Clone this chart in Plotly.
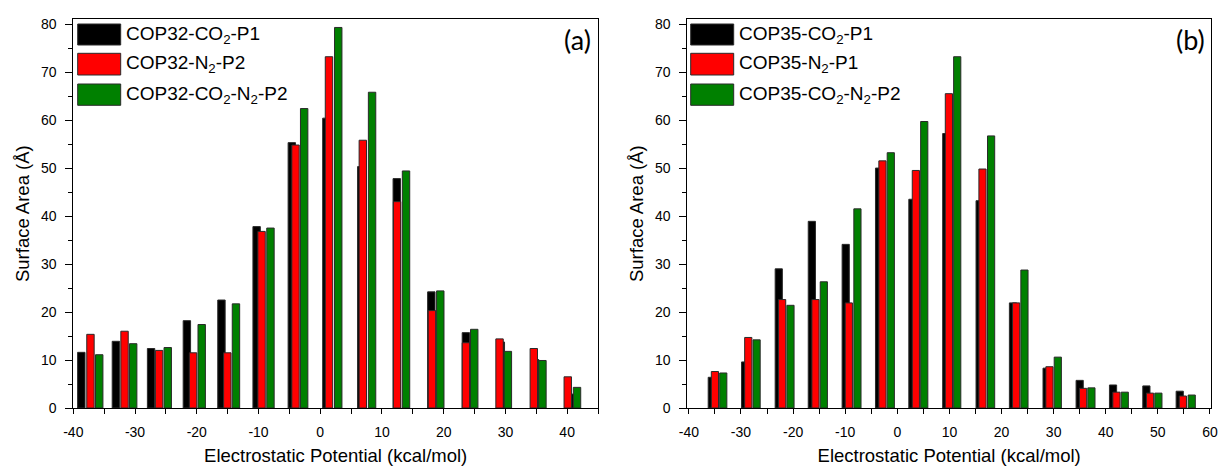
import plotly.graph_objects as go

# ---------------- data ----------------
# Panel (a)
a_black_x = [-38.7, -33.1, -27.4, -21.6, -16.0, -10.3, -4.6, 1.0, 6.65, 12.4, 18.0, 23.6, 29.26, 34.8, 40.4]
a_black_y = [11.6, 13.9, 12.4, 18.2, 22.5, 37.8, 55.3, 60.4, 50.3, 47.8, 24.2, 15.7, 13.75, 10.1, 2.9]
a_red_x = [-37.22, -31.7, -26.1, -20.6, -15.05, -9.5, -4.0, 1.42, 6.9, 12.45, 18.1, 23.6, 29.05, 34.6, 40.1]
a_red_y = [15.35, 16.0, 12.0, 11.5, 11.5, 36.8, 54.8, 73.2, 55.8, 43.0, 20.3, 13.6, 14.4, 12.4, 6.5]
a_green_x = [-35.8, -30.3, -24.7, -19.2, -13.65, -8.06, -2.6, 2.92, 8.4, 13.9, 19.45, 24.95, 30.4, 36.0, 41.6]
a_green_y = [11.1, 13.4, 12.6, 17.4, 21.7, 37.5, 62.4, 79.3, 65.8, 49.4, 24.4, 16.4, 11.8, 9.9, 4.3]
a_names = ["COP32-CO<sub>2</sub>-P1", "COP32-N<sub>2</sub>-P2", "COP32-CO<sub>2</sub>-N<sub>2</sub>-P2"]

# Panel (b)
b_black_x = [-35.6, -29.2, -22.75, -16.4, -9.9, -3.5, 2.9, 9.4, 15.8, 22.2, 28.65, 35.0, 41.4, 47.8, 54.2]
b_black_y = [6.4, 9.6, 29.0, 38.9, 34.1, 50.0, 43.5, 57.2, 43.2, 21.9, 8.3, 5.76, 4.8, 4.6, 3.5]
b_red_x = [-35.0, -28.6, -22.1, -15.7, -9.3, -2.85, 3.56, 9.9, 16.35, 22.8, 29.2, 35.65, 42.05, 48.5, 54.8]
b_red_y = [7.6, 14.7, 22.6, 22.6, 21.9, 51.5, 49.5, 65.5, 49.8, 21.9, 8.6, 4.1, 3.3, 3.1, 2.5]
b_green_x = [-33.4, -27.0, -20.5, -14.1, -7.65, -1.25, 5.17, 11.5, 18.0, 24.4, 30.8, 37.25, 43.65, 50.1, 56.5]
b_green_y = [7.3, 14.2, 21.4, 26.3, 41.5, 53.2, 59.7, 73.2, 56.7, 28.75, 10.6, 4.2, 3.3, 3.1, 2.7]
b_names = ["COP35-CO<sub>2</sub>-P1", "COP35-N<sub>2</sub>-P1", "COP35-CO<sub>2</sub>-N<sub>2</sub>-P2"]

# tick labels (hyphen-minus as in the reference)
a_xticks = [-40, -30, -20, -10, 0, 10, 20, 30, 40]
b_xticks = [-40, -30, -20, -10, 0, 10, 20, 30, 40, 50, 60]
y_ticks = [0, 10, 20, 30, 40, 50, 60, 70, 80]

colors = ["#000000", "#FF0000", "#008000"]
x_title = "Electrostatic Potential (kcal/mol)"
y_title = "Surface Area (Å)"
panel_labels = ["(a)", "(b)"]

# ---------------- figure ----------------
W, H = 1218, 466

def px(x):
    return x / W

def py(y):
    return (H - y) / H

fig = go.Figure()

panels = [
    dict(xs=[a_black_x, a_red_x, a_green_x], ys=[a_black_y, a_red_y, a_green_y],
         names=a_names, xa="x", ya="y", width=1.2),
    dict(xs=[b_black_x, b_red_x, b_green_x], ys=[b_black_y, b_red_y, b_green_y],
         names=b_names, xa="x2", ya="y2", width=1.38),
]

for p in panels:
    for xs, ys, nm, c in zip(p["xs"], p["ys"], p["names"], colors):
        fig.add_trace(go.Bar(
            x=xs, y=ys, name=nm, width=p["width"], xaxis=p["xa"], yaxis=p["ya"],
            marker=dict(color=c, line=dict(color="#2a2a2a", width=1)),
            showlegend=False,
        ))

ydom = [py(408), py(19.3)]
xdom1 = [px(73.3), px(598)]
xdom2 = [px(687.3), px(1211)]

FONT = "Liberation Sans, Arial, sans-serif"
tickfont = dict(family=FONT, size=14, color="#000")
titlefont = dict(family=FONT, size=18.5, color="#000")

def xaxis(domain, rng, anchor, ticks):
    return dict(domain=domain, range=rng, anchor=anchor,
                tickmode="array", tickvals=ticks, ticktext=[str(t) for t in ticks],
                ticks="outside", ticklen=5, tickwidth=1, tickcolor="#000",
                minor=dict(dtick=5, tick0=0, ticks="outside", ticklen=5, tickcolor="#000", tickwidth=1),
                showline=True, linecolor="#000", linewidth=1, mirror=True,
                showgrid=False, zeroline=False, tickfont=tickfont,
                ticklabelstandoff=6, automargin=False,
                title=dict(text=x_title, font=titlefont, standoff=14))

def yaxis(domain, anchor):
    return dict(domain=domain, range=[0, 81], anchor=anchor,
                tickmode="array", tickvals=y_ticks, ticktext=[str(t) for t in y_ticks],
                ticks="outside", ticklen=7, tickwidth=1, tickcolor="#000",
                minor=dict(dtick=5, tick0=0, ticks="outside", ticklen=4, tickcolor="#000", tickwidth=1),
                showline=True, linecolor="#000", linewidth=1, mirror=True,
                showgrid=False, zeroline=False, tickfont=tickfont,
                ticklabelstandoff=6, automargin=False,
                title=dict(text=y_title, font=titlefont, standoff=6))

fig.update_layout(
    width=W, height=H,
    margin=dict(l=0, r=0, t=0, b=0),
    paper_bgcolor="white", plot_bgcolor="white",
    barmode="overlay",
    xaxis=xaxis(xdom1, [-40, 45], "y", a_xticks),
    yaxis=yaxis(ydom, "x"),
    xaxis2=xaxis(xdom2, [-40.3, 60.2], "y2", b_xticks),
    yaxis2=yaxis(ydom, "x2"),
    showlegend=False,
)

# ---------------- legends (drawn boxes + text) ----------------
shapes = []
annotations = []
legend_left = [77.7, 690.7]
rows = [(24, 45), (53.3, 75), (84, 105.3)]
for li, p in enumerate(panels):
    x0 = legend_left[li]
    for (y0, y1), c, nm in zip(rows, colors, p["names"]):
        shapes.append(dict(type="rect", xref="paper", yref="paper",
                           x0=px(x0), x1=px(x0 + 43), y0=py(y1), y1=py(y0),
                           fillcolor=c, line=dict(color="#2a2a2a", width=1)))
        annotations.append(dict(xref="paper", yref="paper", x=px(x0 + 46),
                                y=py((y0 + y1) / 2), xanchor="left", yanchor="middle",
                                text=nm, showarrow=False,
                                font=dict(family=FONT, size=19, color="#000")))

label_right = [593, 1207]
for lab, xr in zip(panel_labels, label_right):
    annotations.append(dict(xref="paper", yref="paper", x=px(xr), y=py(40),
                            xanchor="right", yanchor="middle", text=lab, showarrow=False,
                            font=dict(family="Lato, Open Sans, sans-serif", size=27, color="#000")))

fig.update_layout(shapes=shapes, annotations=annotations)

# remove the default 8px page margin so the figure fills the window exactly
fig.write_html("out.html", config={"displayModeBar": False},
               post_script="document.body.style.margin='0px';")
